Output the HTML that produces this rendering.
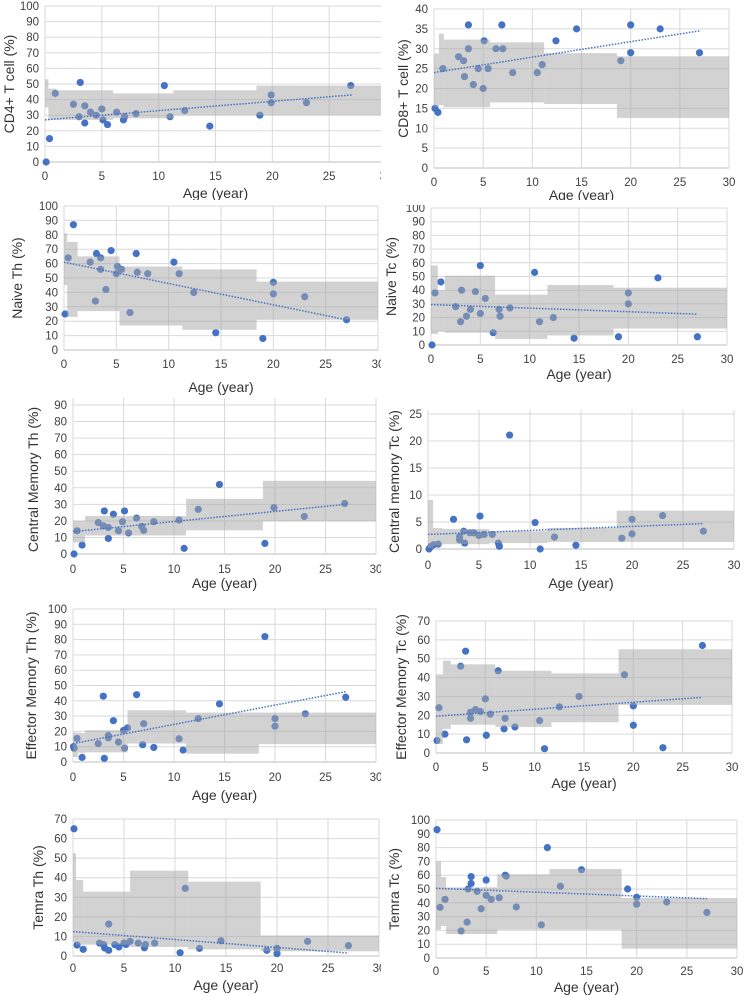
<!DOCTYPE html>
<html><head><meta charset="utf-8">
<style>
html,body{margin:0;padding:0;background:#fff;}
svg{display:block;font-family:"Liberation Sans",Arial,sans-serif;}
</style></head>
<body>
<svg id="fig" width="746" height="995" viewBox="0 0 746 995" xmlns="http://www.w3.org/2000/svg"></svg>
<script>
// ---------- DATA ----------
const p1_age=[0.1,0.4,0.9,2.5,3.1,3.0,3.5,3.5,4.0,4.5,5.0,5.1,5.5,6.3,6.9,7.0,8.0,10.5,11.0,12.3,14.5,18.9,19.9,19.9,23,26.9];
const p1_val=[0,15,44,37,51,29,36,25,32,30,34,27,24,32,27,29,31,49,29,33,23,30,43,38,38,49];
const p1_bandStart=[0,0.3,1.0,6.0,11.3,18.6];
const p1_bandEnd=[0.3,1.0,6.0,11.3,18.6,30];
const p1_bandLo=[35,27,27,28,30,30];
const p1_bandHi=[53,47,46,44,46,49];
const p1_trend=[27,43];

const p2_age=[0.1,0.4,0.9,2.5,3.0,3.1,3.5,3.5,4.0,4.5,5.0,5.1,5.5,6.3,6.9,7.0,8.0,10.5,11.0,12.4,14.5,19.0,20,20,23,27];
const p2_val=[15,14,25,28,27,23,30,36,21,25,20,32,25,30,36,30,24,24,26,32,35,27,36,29,35,29];
const p2_bandStart=[0,0.5,1.0,5.7,11.2,18.6];
const p2_bandEnd=[0.5,1.0,5.7,11.2,18.6,30];
const p2_bandLo=[15.4,15.8,15.3,16.5,16.1,12.6];
const p2_bandHi=[28.8,33.8,32.3,31.6,28.9,28.1];
const p2_trend=[24,34.5];

const p3_age=[0.1,0.4,0.9,2.5,3.0,3.1,3.5,3.5,4.0,4.5,5.1,5.0,5.5,6.3,6.9,7.0,8.0,10.5,11.0,12.4,14.5,19,20,20,23,27];
const p3_val=[25,64,87,61,34,67,64,56,42,69,58,53,56,26,67,54,53,61,53,40,12,8,47,39,37,21];
const p3_bandStart=[0,0.3,1.3,5.3,11.3,18.4];
const p3_bandEnd=[0.3,1.3,5.3,11.3,18.4,30];
const p3_bandLo=[45,23,27,17,14,21];
const p3_bandHi=[81,75,65,58,56,47.5];
const p3_trend=[61,21];

const p4_age=[0.1,0.4,1.0,2.5,3.0,3.1,3.6,4.0,4.5,5.0,5.0,5.5,6.3,6.9,7.0,8.0,10.5,11.0,12.4,14.5,19,20,20,23,27];
const p4_val=[0,38,46,28,17,40,21,26,39,23,58,34,9,26,21,27,53,17,20,5,6,38,30,49,6];
const p4_bandStart=[0,0.7,1.4,6.5,11.8,18.5];
const p4_bandEnd=[0.7,1.4,6.5,11.8,18.5,30];
const p4_bandLo=[8,10,9,4.4,7,12];
const p4_bandHi=[58,40,50.6,36.7,43.8,41.8];
const p4_trend=[29.5,22.5];

const p5_age=[0.1,0.4,0.9,2.5,3.1,3.0,3.5,3.5,4.0,4.5,4.9,5.1,5.5,6.3,6.8,7.0,8.0,10.5,11.0,12.4,14.5,19,19.9,22.9,26.9];
const p5_val=[0,14,5.4,19,26,17,9.4,16,24,14,19.5,26,12.7,21.7,16.7,14.3,19.5,20.5,3.4,27,42,6.4,28,22.7,30.5];
const p5_bandStart=[0,1.2,11.2,18.8];
const p5_bandEnd=[1.2,11.2,18.8,30];
const p5_bandLo=[7,11.2,14.3,19.7];
const p5_bandHi=[20,23,33.3,44.2];
const p5_trend=[13.5,30];

const p6_age=[0.1,0.3,0.55,1.0,2.5,3.1,3.1,3.5,3.6,4.1,4.5,5.0,5.1,5.5,6.3,6.9,7.0,8.0,10.5,11,12.4,14.5,19,20,20,23,27];
const p6_val=[0,0.5,0.8,0.9,5.5,2.3,1.7,3.3,1.1,3,3,2.5,6.1,2.7,2.7,1.1,0.5,21.1,4.9,0,2.2,0.7,2,5.5,2.8,6.2,3.3];
const p6_bandStart=[0,0.5,1.4,6,11.7,18.5];
const p6_bandEnd=[0.5,1.4,6,11.7,18.5,30];
const p6_bandLo=[0.2,0.6,0.9,1.1,1.3,1.3];
const p6_bandHi=[9.1,3.9,3.7,3.3,3.9,7.1];
const p6_trend=[2.7,4.7];

const p7_age=[0.05,0.1,0.4,0.9,2.5,3.0,3.1,3.5,3.5,4.0,4.5,5.0,5.1,5.4,6.3,6.9,7.0,8.0,10.5,10.9,12.4,14.5,19,20,20,23,27];
const p7_val=[10,9,15.4,3,12,43,2.4,17.3,15.8,27,13,20.6,9,22.3,44,11.3,25,9.5,15.2,7.8,28.4,38,82,28.4,23.4,31.5,42.3];
const p7_bandStart=[0,0.5,1.2,5.4,11.2,18.4];
const p7_bandEnd=[0.5,1.2,5.4,11.2,18.4,30];
const p7_bandLo=[3.3,6,6.3,12.1,5.4,11.7];
const p7_bandHi=[19.3,19,20.8,33.8,32.3,32.3];
const p7_trend=[12,46];

const p8_age=[0.1,0.3,0.9,2.5,3.1,3.0,3.5,3.5,4.0,4.5,5.0,5.1,5.5,6.3,6.9,7.0,8.0,10.5,11.0,12.5,14.5,19.1,20,20,23,27];
const p8_val=[6.6,24,10,46,7,54,21.6,18.4,23,22,28.7,9.4,20.6,43.6,12.8,18.4,13.8,17.2,2.3,24.5,30,41.5,25,14.7,2.8,57];
const p8_bandStart=[0,0.7,1.5,6,11.7,18.5];
const p8_bandEnd=[0.7,1.5,6,11.7,18.5,30];
const p8_bandLo=[4.8,12.8,15,13.8,16.3,25.5];
const p8_bandHi=[41.7,49,47,43.6,42.2,55];
const p8_trend=[19.5,29.5];

const p9_age=[0.1,0.4,1.0,2.6,3.0,3.1,3.5,3.5,4.1,4.5,5.0,5.2,5.6,6.4,7.0,7.1,8.0,10.5,11.0,12.4,14.5,19,20,20,23,27];
const p9_val=[65,5.6,3.4,6.6,5.8,4.1,16.3,2.9,5.8,4.6,6.6,5.9,7.5,6.6,4.2,5.9,6.6,1.7,34.6,3.9,7.8,2.9,3.9,1.2,7.5,5.3];
const p9_bandStart=[0,0.3,1,5.6,11.3,18.4];
const p9_bandEnd=[0.3,1,5.6,11.3,18.4,30];
const p9_bandLo=[7,5.8,5.8,4.6,3.4,2.4];
const p9_bandHi=[52.5,38.8,32.9,43.6,38,10.5];
const p9_trend=[12.5,1.5];

const p10_age=[0.1,0.4,0.9,2.5,3.1,3.2,3.5,3.5,4.1,4.5,5.0,5.0,5.5,6.3,6.9,7.0,8.0,10.5,11.1,12.4,14.5,19.1,20,20,23,27];
const p10_val=[93,36.7,42.5,19.6,26,50,54,59,48.3,35.7,45.4,56.5,42.5,43.7,60,59.4,37,24,80,52,64,50,44,39,40.6,33];
const p10_bandStart=[0,0.5,1.0,6.1,11.3,18.5];
const p10_bandEnd=[0.5,1.0,6.1,11.3,18.5,30];
const p10_bandLo=[20.5,23.2,17.4,20.5,20.5,6.8];
const p10_bandHi=[70,58.7,51.2,60.6,64.5,43.5];
const p10_trend=[50.5,43];

const trendAges=[0,27];
const xTicks=[0,5,10,15,20,25,30];

// ---------- LAYOUT ----------
const panels=[
 {id:'cd4',title:'CD4+ T cell (%)',age:p1_age,val:p1_val,bs:p1_bandStart,be:p1_bandEnd,bl:p1_bandLo,bh:p1_bandHi,tr:p1_trend,ymax:100,ystep:10,
  x0:45,x1:386,y0:162,y1:6,clip:[0,0,381,200],tickY:176,ageY:198,titleX:14,ext:0},
 {id:'cd8',title:'CD8+ T cell (%)',age:p2_age,val:p2_val,bs:p2_bandStart,be:p2_bandEnd,bl:p2_bandLo,bh:p2_bandHi,tr:p2_trend,ymax:40,ystep:5,
  x0:434,x1:729,y0:168,y1:9,clip:[381,0,365,200],tickY:182,ageY:200,titleX:408,ext:0},
 {id:'naive-th',title:'Naive Th (%)',age:p3_age,val:p3_val,bs:p3_bandStart,be:p3_bandEnd,bl:p3_bandLo,bh:p3_bandHi,tr:p3_trend,ymax:100,ystep:10,
  x0:64,x1:378,y0:350,y1:206,clip:[0,200,381,195],tickY:364,ageY:392,titleX:22,ext:0},
 {id:'naive-tc',title:'Naive Tc (%)',age:p4_age,val:p4_val,bs:p4_bandStart,be:p4_bandEnd,bl:p4_bandLo,bh:p4_bandHi,tr:p4_trend,ymax:100,ystep:10,
  x0:431,x1:727,y0:345,y1:208,clip:[381,205,365,180],tickY:359,ageY:379,titleX:396,ext:0},
 {id:'cm-th',title:'Central Memory Th (%)',age:p5_age,val:p5_val,bs:p5_bandStart,be:p5_bandEnd,bl:p5_bandLo,bh:p5_bandHi,tr:p5_trend,ymax:90,ystep:10,
  x0:73,x1:376,y0:554,y1:405,clip:[0,396,381,196],tickY:569,ageY:588,titleX:38,ext:7},
 {id:'cm-tc',title:'Central memory Tc (%)',age:p6_age,val:p6_val,bs:p6_bandStart,be:p6_bandEnd,bl:p6_bandLo,bh:p6_bandHi,tr:p6_trend,ymax:25,ystep:5,
  x0:428,x1:734,y0:549,y1:414,clip:[381,400,365,192],tickY:565,ageY:588,titleX:399,ext:4},
 {id:'em-th',title:'Effector Memory Th (%)',age:p7_age,val:p7_val,bs:p7_bandStart,be:p7_bandEnd,bl:p7_bandLo,bh:p7_bandHi,tr:p7_trend,ymax:100,ystep:10,
  x0:73,x1:376,y0:762,y1:609,clip:[0,598,381,205],tickY:777,ageY:800,titleX:36,ext:0},
 {id:'em-tc',title:'Effector Memory Tc (%)',age:p8_age,val:p8_val,bs:p8_bandStart,be:p8_bandEnd,bl:p8_bandLo,bh:p8_bandHi,tr:p8_trend,ymax:70,ystep:10,
  x0:436,x1:732,y0:753,y1:621,clip:[381,612,365,180],tickY:767,ageY:788,titleX:406,ext:0},
 {id:'temra-th',title:'Temra Th (%)',age:p9_age,val:p9_val,bs:p9_bandStart,be:p9_bandEnd,bl:p9_bandLo,bh:p9_bandHi,tr:p9_trend,ymax:70,ystep:10,
  x0:73,x1:379,y0:956,y1:819,clip:[0,810,381,185],tickY:968,ageY:990,titleX:43,ext:0},
 {id:'temra-tc',title:'Temra Tc (%)',age:p10_age,val:p10_val,bs:p10_bandStart,be:p10_bandEnd,bl:p10_bandLo,bh:p10_bandHi,tr:p10_trend,ymax:100,ystep:10,
  x0:436,x1:737,y0:958,y1:820,clip:[381,810,365,185],tickY:971,ageY:992,titleX:399,ext:0}
];

const NS='http://www.w3.org/2000/svg';
const svg=document.getElementById('fig');
const defs=document.createElementNS(NS,'defs');
svg.appendChild(defs);
function mk(tag,attrs,parent){const e=document.createElementNS(NS,tag);for(const k in attrs)e.setAttribute(k,attrs[k]);parent.appendChild(e);return e;}

panels.forEach(p=>{
  const xs=a=>p.x0+(p.x1-p.x0)*a/30;
  const ys=v=>p.y0-(p.y0-p.y1)*v/p.ymax;
  const cp=mk('clipPath',{id:'clip-'+p.id},defs);
  mk('rect',{x:p.clip[0],y:p.clip[1],width:p.clip[2],height:p.clip[3]},cp);
  const g=mk('g',{'clip-path':'url(#clip-'+p.id+')'},svg);
  
  
  const top=p.y1-p.ext;
  for(let v=0;v<=p.ymax+1e-9;v+=p.ystep){
    const y=ys(v);
    const gl=mk('line',{x1:p.x0,x2:p.x1,y1:y,y2:y,stroke:v===0?'#bfbfbf':'#d9d9d9','stroke-width':1},g);
    
    
    const t=mk('text',{x:p.x0-6,y:y+4,'text-anchor':'end','font-size':11.5,fill:'#404040'},g);
    t.textContent=v;
    
    
  }
  xTicks.forEach(a=>{
    const x=xs(a);
    const gl=mk('line',{x1:x,x2:x,y1:top,y2:p.y0,stroke:'#d9d9d9','stroke-width':1},g);
    
    
    const t=mk('text',{x:x,y:p.tickY+4,'text-anchor':'middle','font-size':11.5,fill:'#404040'},g);
    t.textContent=a;
    
    
  });
  p.age.forEach((a,i)=>{
    const c=mk('circle',{cx:xs(a),cy:ys(p.val[i]),r:3.6,fill:'#4472c4'},g);
    
    
  });
  p.bs.forEach((s,i)=>{
    const r=mk('rect',{x:xs(s),y:ys(p.bh[i]),width:xs(p.be[i])-xs(s),height:ys(p.bl[i])-ys(p.bh[i]),fill:'#a6a6a6','fill-opacity':0.5},g);
    
    
  });
  const tl=mk('line',{x1:xs(trendAges[0]),y1:ys(p.tr[0]),x2:xs(trendAges[1]),y2:ys(p.tr[1]),stroke:'#4472c4','stroke-width':1.5,'stroke-dasharray':'1.5,1.5'},g);
  
  
  const xt=mk('text',{x:(p.x0+p.x1)/2,y:p.ageY,'text-anchor':'middle','font-size':14,fill:'#333'},g);
  xt.textContent='Age (year)';
  
  
  const cy=(p.y0+p.y1)/2;
  const yt=mk('text',{x:p.titleX,y:cy,'text-anchor':'middle','font-size':14,fill:'#333',transform:'rotate(-90 '+p.titleX+' '+cy+')'},g);
  yt.textContent=p.title;
  
  
});
</script>
</body></html>
